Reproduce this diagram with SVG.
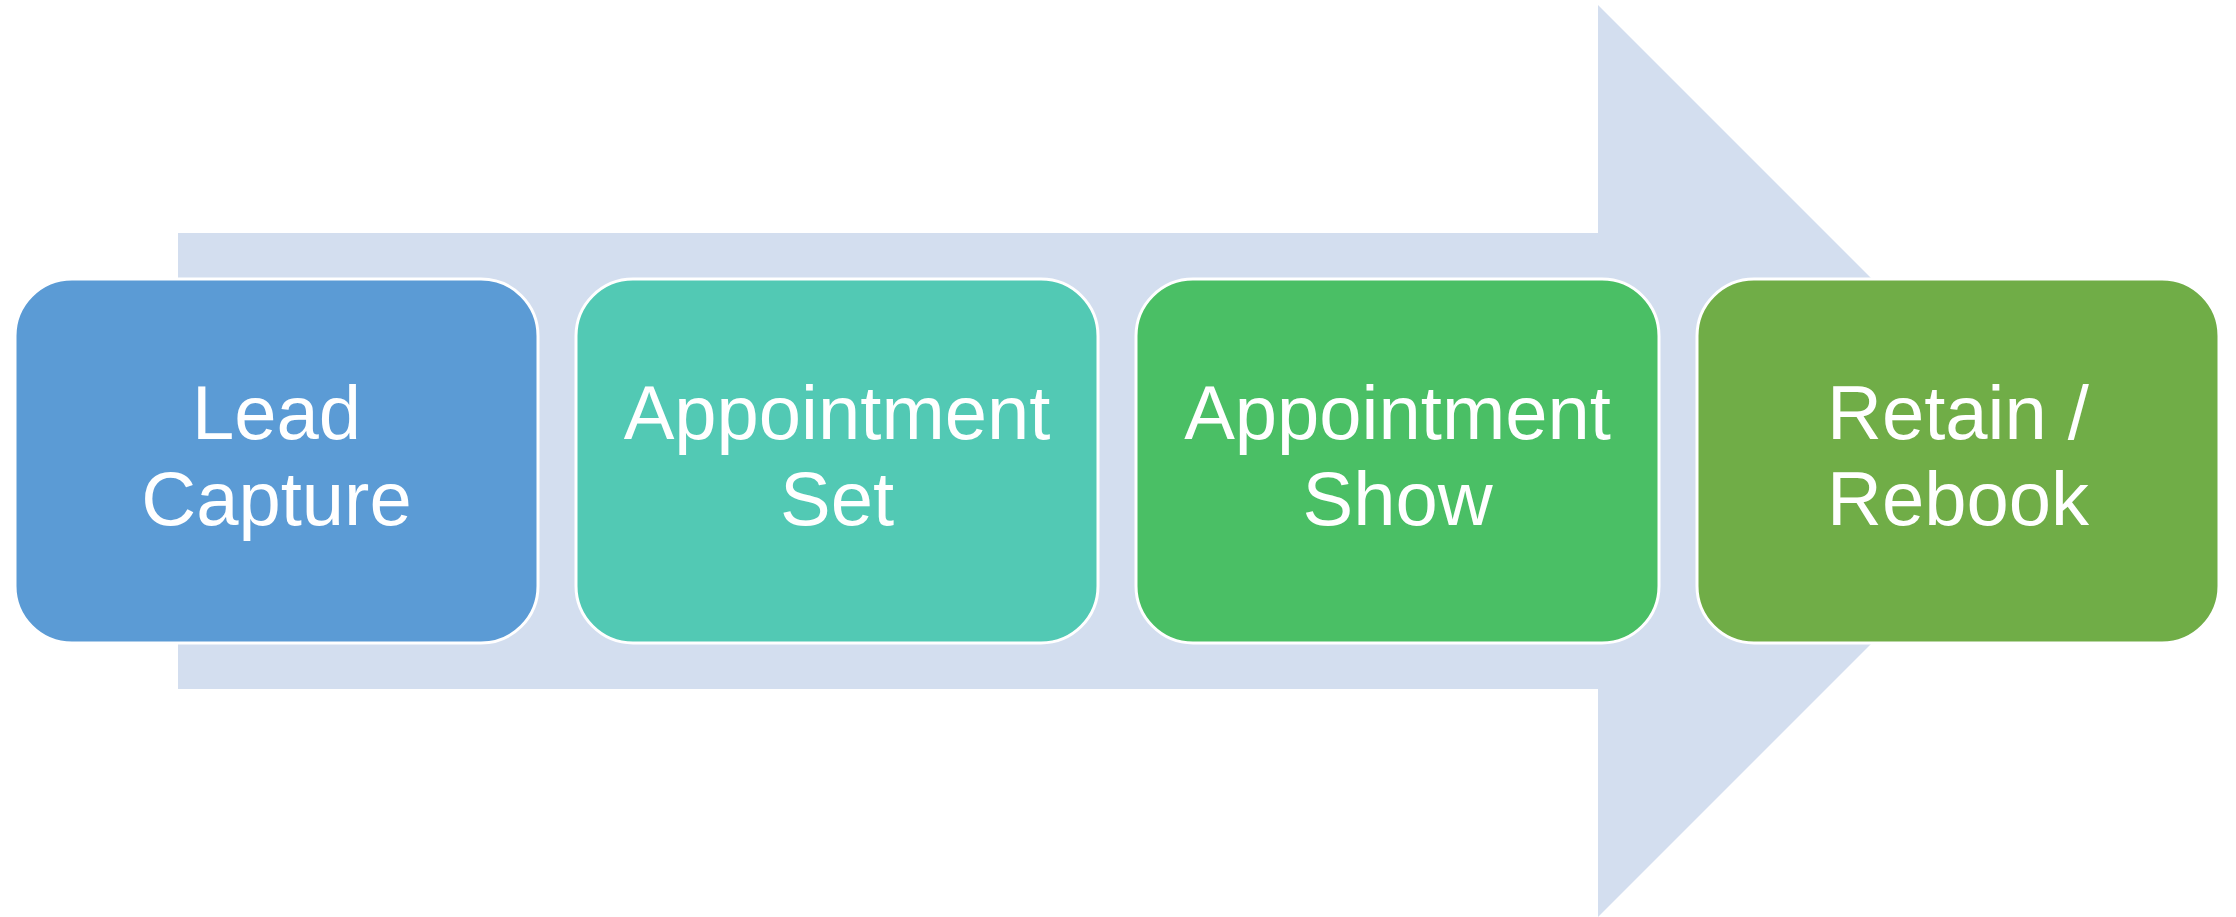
<svg xmlns="http://www.w3.org/2000/svg" width="2236" height="917" viewBox="0 0 2236 917">
  <style>
    .box { stroke: #FFFFFF; stroke-width: 3; }
    .lbl { font-family: "Liberation Sans", Arial, sans-serif; font-size: 76px; fill: #FFFFFF; text-anchor: middle; }
  </style>
  <rect width="2236" height="917" fill="#FFFFFF"/>
  <g id="connectors">
    <polygon id="big-arrow" points="178,233 1598,233 1598,5 2054,461 1598,917 1598,689 178,689" fill="#D3DEEF"/>
  </g>
  <g id="node-lead-capture">
    <rect class="box" x="15" y="279" width="523" height="364" rx="57" ry="57" fill="#5B9BD5"/>
    <text class="lbl" x="276.5" y="439">Lead</text>
    <text class="lbl" x="276.5" y="525">Capture</text>
  </g>
  <g id="node-appointment-set">
    <rect class="box" x="576" y="279" width="522" height="364" rx="57" ry="57" fill="#52C9B4"/>
    <text class="lbl" x="837" y="439">Appointment</text>
    <text class="lbl" x="837" y="525">Set</text>
  </g>
  <g id="node-appointment-show">
    <rect class="box" x="1136" y="279" width="523" height="364" rx="57" ry="57" fill="#4ABF65"/>
    <text class="lbl" x="1397.5" y="439">Appointment</text>
    <text class="lbl" x="1397.5" y="525">Show</text>
  </g>
  <g id="node-retain-rebook">
    <rect class="box" x="1697" y="279" width="522" height="364" rx="57" ry="57" fill="#70AD47"/>
    <text class="lbl" x="1958" y="439">Retain /</text>
    <text class="lbl" x="1958" y="525">Rebook</text>
  </g>
</svg>
